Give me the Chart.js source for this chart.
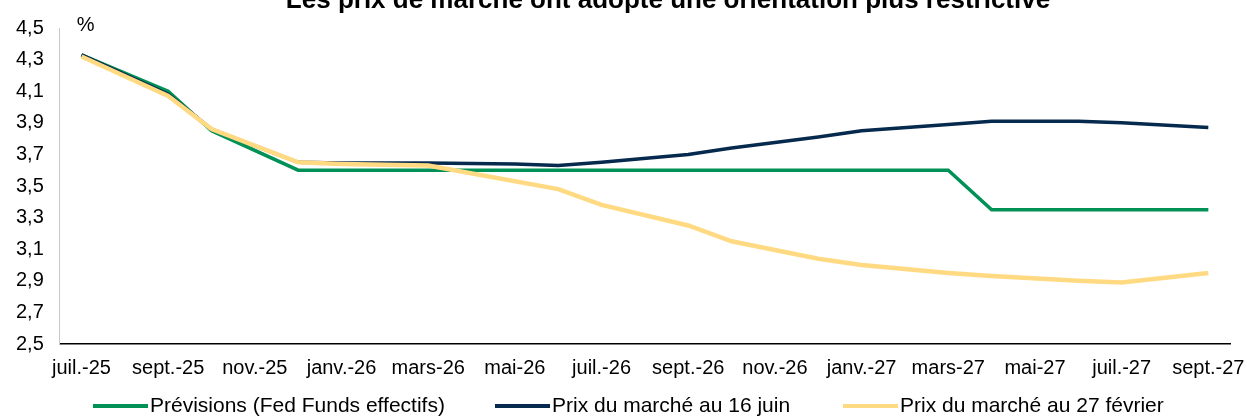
<!DOCTYPE html>
<html lang="fr">
<head>
<meta charset="utf-8">
<script src="https://cdn.jsdelivr.net/npm/chart.js@4.4.1/dist/chart.umd.min.js"></script>
<style>
  html, body { margin: 0; padding: 0; background: #fff; }
  #wrap { width: 1247px; height: 417px; position: relative; overflow: hidden; }
  #legende { position: absolute; left: 0; top: 393px; width: 1247px; height: 24px;
             font-family: "Liberation Sans", Arial, sans-serif; font-size: 21px; color: #000; }
  .item { position: absolute; top: 0; height: 24px; line-height: 24px; white-space: nowrap; }
  .trait { display: inline-block; width: 55px; height: 4px; vertical-align: middle; margin-right: 2px; }
</style>
</head>
<body>
<div id="wrap">
  <canvas id="fedChart"></canvas>
  <div id="legende"></div>
</div>
<script>
const months = [
    'juil.-25', 'août-25', 'sept.-25', 'oct.-25', 'nov.-25', 'déc.-25',
    'janv.-26', 'févr.-26', 'mars-26', 'avr.-26', 'mai-26', 'juin-26',
    'juil.-26', 'août-26', 'sept.-26', 'oct.-26', 'nov.-26', 'déc.-26',
    'janv.-27', 'févr.-27', 'mars-27', 'avr.-27', 'mai-27', 'juin-27',
    'juil.-27', 'août-27', 'sept.-27'
];

// valeurs relevées aux réunions du FOMC (null = pas de point, ligne droite)
const previsions = [
    4.33, null, 4.10, 3.85, null, 3.60,
    3.60, null, 3.60, null, 3.60, 3.60,
    3.60, null, 3.60, 3.60, null, 3.60,
    3.60, null, 3.60, 3.35, null, 3.35,
    3.35, null, 3.35
];
const marche16juin = [
    4.33, null, 4.08, 3.86, null, 3.65,
    3.645, null, 3.645, null, 3.64, 3.63,
    3.65, null, 3.70, 3.74, null, 3.81,
    3.85, null, 3.89, 3.91, null, 3.91,
    3.90, null, 3.87
];
const marche27fev = [
    4.32, null, 4.07, 3.86, null, 3.65,
    3.64, null, 3.63, null, null, 3.48,
    3.38, null, 3.25, 3.15, null, 3.04,
    3.00, null, 2.95, 2.93, null, 2.90,
    2.89, null, 2.95
];

const titre = 'Les prix de marché ont adopté une orientation plus restrictive';

const fontFamily = '"Liberation Sans", Arial, sans-serif';

const extraText = {
    id: 'extraText',
    afterDraw(chart) {
        const ctx = chart.ctx;
        const area = chart.chartArea;
        ctx.save();
        ctx.fillStyle = '#000';
        ctx.font = 'bold 26px ' + fontFamily;
        ctx.textAlign = 'center';
        ctx.textBaseline = 'alphabetic';
        ctx.fillText(titre, 668, 8);
        ctx.font = '20px ' + fontFamily;
        ctx.textAlign = 'left';
        ctx.fillText('%', area.left + 17, area.top + 3);
        ctx.restore();
    }
};

const chart = new Chart(document.getElementById('fedChart').getContext('2d'), {
    type: 'line',
    data: {
        labels: months,
        datasets: [
            {
                label: 'Prévisions (Fed Funds effectifs)',
                data: previsions,
                borderColor: '#009157',
                backgroundColor: '#009157',
                borderWidth: 3.5,
                pointRadius: 0,
                spanGaps: true,
                tension: 0,
                order: 3
            },
            {
                label: 'Prix du marché au 16 juin',
                data: marche16juin,
                borderColor: '#062a4d',
                backgroundColor: '#062a4d',
                borderWidth: 3.5,
                pointRadius: 0,
                spanGaps: true,
                tension: 0,
                order: 2
            },
            {
                label: 'Prix du marché au 27 février',
                data: marche27fev,
                borderColor: '#ffda82',
                backgroundColor: '#ffda82',
                borderWidth: 4.5,
                pointRadius: 0,
                spanGaps: true,
                tension: 0,
                order: 1
            }
        ]
    },
    options: {
        responsive: true,
        maintainAspectRatio: false,
        animation: false,
        layout: { padding: { top: 20, right: 17, left: 0, bottom: 25 } },
        scales: {
            x: {
                offset: true,
                grid: { display: false, drawTicks: false },
                border: { display: true, color: '#000', width: 1.5 },
                afterFit: function(scale) {
                    // les étiquettes débordent dans la marge de décalage, comme l'original
                    scale.paddingLeft = 0;
                    scale.paddingRight = 0;
                },
                ticks: {
                    autoSkip: false,
                    maxRotation: 0,
                    padding: 12,
                    color: '#000',
                    font: { family: fontFamily, size: 20 },
                    callback: function(value, index) {
                        return index % 2 === 0 ? months[index] : '';
                    }
                }
            },
            y: {
                min: 2.5,
                max: 4.5,
                grid: { display: false, drawTicks: false },
                border: { display: true, color: '#c8c8c8', width: 1 },
                ticks: {
                    stepSize: 0.2,
                    autoSkip: false,
                    padding: 16,
                    color: '#000',
                    font: { family: fontFamily, size: 20 },
                    callback: function(value) {
                        return value.toFixed(1).replace('.', ',');
                    }
                }
            }
        },
        plugins: {
            title: { display: false },
            tooltip: { enabled: false },
            legend: { display: false }
        }
    },
    plugins: [extraText]
});

// légende en HTML, alignée comme l'original
const legendLeft = [93, 495, 843];
const legende = document.getElementById('legende');
chart.data.datasets.forEach(function(ds, i) {
    const item = document.createElement('div');
    item.className = 'item';
    item.style.left = legendLeft[i] + 'px';
    const trait = document.createElement('span');
    trait.className = 'trait';
    trait.style.background = ds.borderColor;
    item.appendChild(trait);
    item.appendChild(document.createTextNode(ds.label));
    legende.appendChild(item);
});
</script>
</body>
</html>
